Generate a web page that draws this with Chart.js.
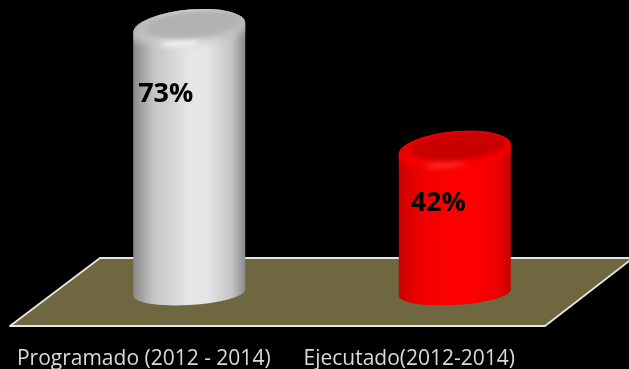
<!DOCTYPE html>
<html><head><meta charset="utf-8">
<style>html,body{margin:0;padding:0;background:#000;overflow:hidden}canvas{display:block}</style>
<script src="https://cdn.jsdelivr.net/npm/chart.js@4"></script>
</head><body><canvas id="c" width="629" height="369"></canvas>
<script>
const categories = ["Programado (2012 - 2014)", "Ejecutado(2012-2014)"];
const values = [73, 42];
const valueLabels = ["73%", "42%"];
const palettes = [
  {edge:"#8a8a8a", soft:"#c4c4c4", mid:"#e6e6e6", cap:"#dcdcdc", capEdge:"#b8b8b8", face:"#b2b2b2", glow:"#ffffff"},
  {edge:"#c80000", soft:"#ee0000", mid:"#ff0000", cap:"#ff0000", capEdge:"#ee0000", face:"#c80000", glow:"#ff3a3a"}
];
const SHIFT = 45.5, BASE_VALUE = 5.5, SHEAR_TOP = 0.085, SHEAR_BASE = 0.055;
const LABEL_DX = [22, 29], LABEL_DY = [67, 54];

function ell(ctx, cx, cy, rx, ry, shear, a0, a1) {
  ctx.save(); ctx.translate(cx, cy); ctx.transform(1, -shear, 0, 1, 0, 0);
  ctx.ellipse(0, 0, rx, ry, 0, a0, a1); ctx.restore();
}
const backdrop = {
  id: "backdrop",
  beforeDraw(chart) {
    const {ctx, chartArea: a} = chart;
    ctx.save();
    ctx.fillStyle = "#000"; ctx.fillRect(0, 0, chart.width, chart.height);
    const top = a.bottom - 68, l = a.left - 1, r = a.right + 3;
    ctx.beginPath();
    ctx.moveTo(l, a.bottom); ctx.lineTo(l + 90, top); ctx.lineTo(r + 88, top); ctx.lineTo(r, a.bottom); ctx.closePath();
    ctx.fillStyle = "#6f673f"; ctx.fill();
    ctx.strokeStyle = "#e6e6e0"; ctx.lineWidth = 1.8; ctx.lineJoin = "round"; ctx.stroke();
    ctx.restore();
  }
};
const cylinders = {
  id: "cylinders",
  afterDatasetsDraw(chart) {
    const {ctx} = chart, y = chart.scales.y;
    chart.getDatasetMeta(0).data.forEach((bar, i) => {
      const p = palettes[i], cx = bar.x + SHIFT, rx = bar.width / 2;
      const topY = y.getPixelForValue(values[i]), baseY = y.getPixelForValue(BASE_VALUE);
      const ryT = 18, ryB = 12.5;
      ctx.save();
      ctx.beginPath();
      ell(ctx, cx, topY, rx, ryT, SHEAR_TOP, Math.PI, 2 * Math.PI);
      ell(ctx, cx, baseY, rx, ryB, SHEAR_BASE, 0, Math.PI);
      ctx.closePath(); ctx.clip();
      const g = ctx.createLinearGradient(cx - rx, 0, cx + rx, 0);
      g.addColorStop(0, p.edge); g.addColorStop(0.18, p.soft); g.addColorStop(0.5, p.mid); g.addColorStop(0.66, p.mid); g.addColorStop(0.88, p.soft); g.addColorStop(1, p.edge);
      ctx.fillStyle = g; ctx.fillRect(cx - rx - 2, topY - 30, 2 * rx + 4, baseY - topY + 60);
      const c = ctx.createLinearGradient(cx - rx, 0, cx + rx, 0);
      c.addColorStop(0, p.capEdge); c.addColorStop(0.45, p.cap); c.addColorStop(1, p.capEdge);
      ctx.filter = "blur(3px)";
      ctx.beginPath(); ell(ctx, cx, topY, rx + 5, ryT, SHEAR_TOP, 0, 2 * Math.PI);
      ctx.fillStyle = c; ctx.fill();
      ctx.filter = "blur(3px)";
      ctx.beginPath(); ell(ctx, cx - 10, topY + 15, 20, 2.5, SHEAR_TOP, 0, 2 * Math.PI);
      ctx.fillStyle = p.glow; ctx.fill();
      ctx.filter = "blur(2px)";
      ctx.beginPath(); ell(ctx, cx + 3, topY - 3, rx - 8, ryT - 4, SHEAR_TOP, 0, 2 * Math.PI);
      ctx.fillStyle = p.face; ctx.fill();
      ctx.filter = "none";
      ctx.restore();
      ctx.fillStyle = "#000"; ctx.font = "bold 27px 'Open Sans'";
      ctx.textAlign = "center"; ctx.textBaseline = "middle";
      ctx.fillText(valueLabels[i], bar.x + LABEL_DX[i], topY + LABEL_DY[i]);
    });
  }
};
new Chart(document.getElementById("c"), {
  type: "bar",
  data: { labels: categories, datasets: [{ data: values, backgroundColor: "rgba(0,0,0,0)", borderWidth: 0, barPercentage: 0.4218, categoryPercentage: 1 }] },
  options: {
    responsive: false, animation: false,
    layout: { padding: { left: 11, right: 87, top: 4, bottom: 0 } },
    plugins: { legend: { display: false }, tooltip: { enabled: false } },
    scales: {
      x: { grid: { display: false }, border: { display: false },
           ticks: { color: "#d9d9d9", padding: 12, maxRotation: 0, autoSkip: false, font: { family: "'Open Sans'", size: 21 } },
           afterFit(s) { s.height = 43; } },
      y: { display: false, min: -3, max: 79 }
    }
  },
  plugins: [backdrop, cylinders]
});
</script></body></html>
